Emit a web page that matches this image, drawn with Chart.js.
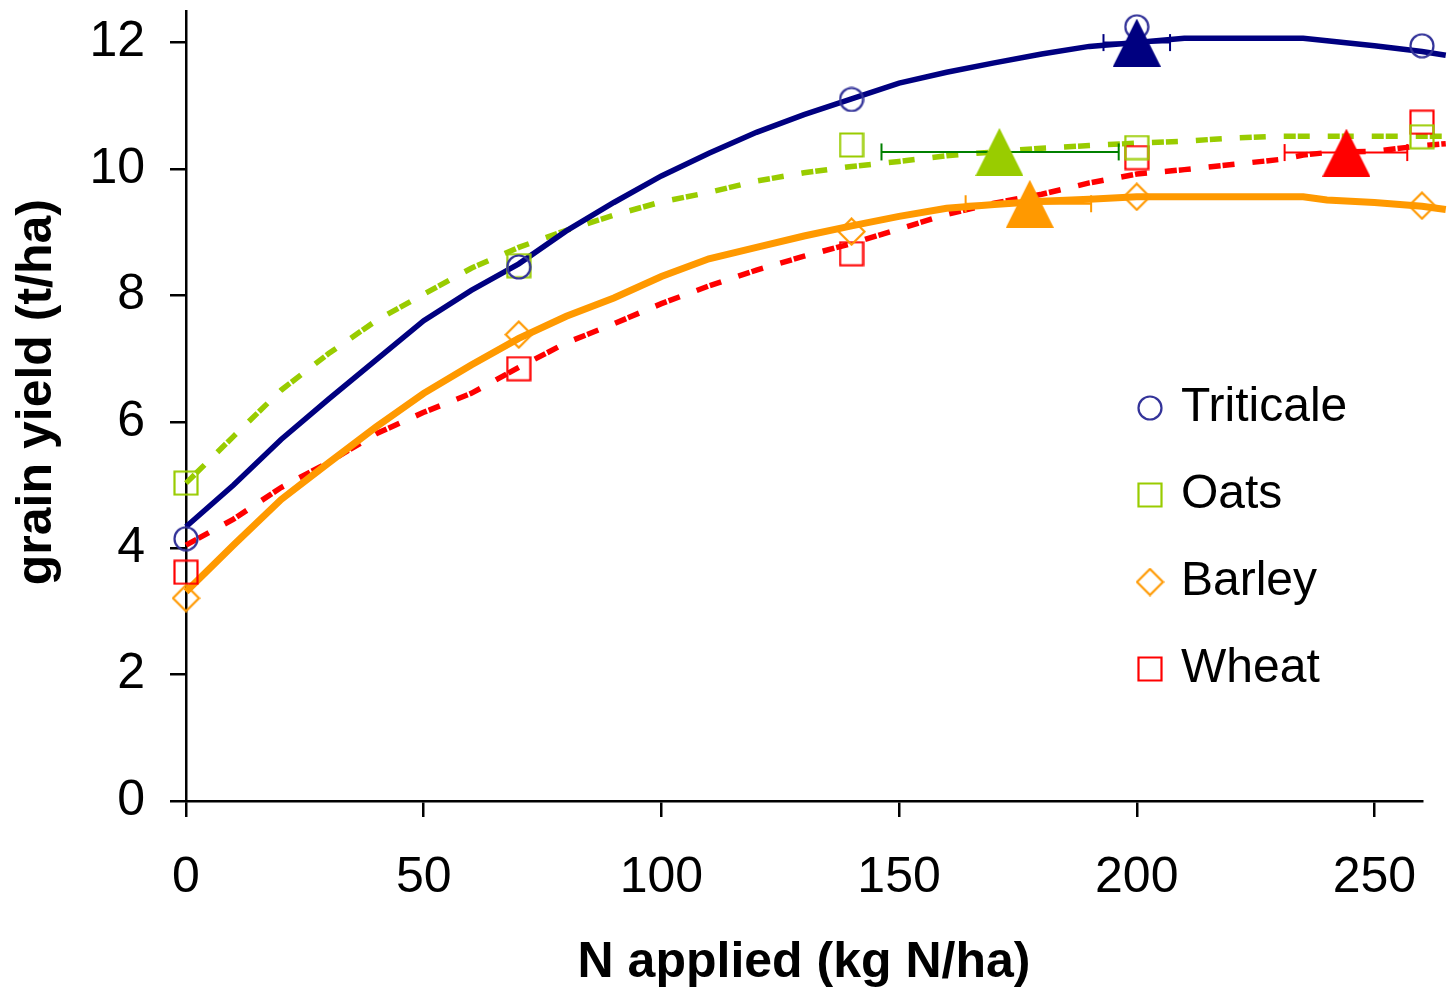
<!DOCTYPE html>
<html lang="en">
<head>
  <meta charset="UTF-8">
  <title>Grain yield response to applied N</title>
  <script src="https://cdn.jsdelivr.net/npm/chart.js@4.4.1/dist/chart.umd.min.js"></script>
  <style>
    body { margin: 0; background: #fff; }
    #wrap { width: 1447px; height: 989px; }
  </style>
</head>
<body>
<div id="wrap"><canvas id="yieldChart" width="1447" height="989"></canvas></div>
<script>
  // measured yields (t/ha) at each N rate
  const nLevels = [0, 70, 140, 200, 260];
  const triticaleObs = [4.15, 8.45, 11.1, 12.25, 11.95];
  const oatsObs = [5.03, 8.47, 10.38, 10.34, 10.51];
  const barleyObs = [3.21, 7.38, 9.01, 9.56, 9.42];
  const wheatObs = [3.62, 6.84, 8.66, 10.18, 10.74];

  // fitted response curves
  const fitN = [0, 10, 20, 30, 40, 50, 60, 70, 80, 90, 100, 110, 120, 130, 140, 150, 160, 170, 180, 190, 200, 210, 220, 230, 235, 240, 250, 260, 265];
  const triticaleFit = [4.34, 5.0, 5.72, 6.36, 6.98, 7.6, 8.08, 8.5, 9.02, 9.47, 9.89, 10.25, 10.58, 10.86, 11.11, 11.36, 11.53, 11.68, 11.82, 11.94, 12.0, 12.07, 12.07, 12.07, 12.07, 12.03, 11.95, 11.86, 11.8];
  const oatsFit = [5.03, 5.77, 6.5, 7.08, 7.6, 8.02, 8.43, 8.76, 9.03, 9.27, 9.48, 9.63, 9.81, 9.94, 10.04, 10.12, 10.21, 10.27, 10.33, 10.37, 10.41, 10.44, 10.49, 10.52, 10.52, 10.52, 10.52, 10.52, 10.52];
  const barleyFit = [3.31, 4.05, 4.77, 5.35, 5.92, 6.45, 6.9, 7.32, 7.67, 7.96, 8.3, 8.58, 8.76, 8.94, 9.1, 9.25, 9.38, 9.44, 9.49, 9.52, 9.56, 9.56, 9.56, 9.56, 9.56, 9.51, 9.47, 9.41, 9.36];
  const wheatFit = [4.05, 4.46, 4.96, 5.36, 5.81, 6.15, 6.45, 6.86, 7.25, 7.55, 7.87, 8.15, 8.4, 8.62, 8.82, 9.05, 9.28, 9.46, 9.6, 9.78, 9.92, 9.99, 10.07, 10.15, 10.22, 10.26, 10.28, 10.37, 10.4];

  // economic optimum N and its range (Triticale, Oats, Barley, Wheat)
  const optN = [200, 171.1, 177.5, 244.1];
  const optYield = [12.0, 10.27, 9.45, 10.26];
  const optLow = [193, 146.3, 164, 231.1];
  const optHigh = [207, 196.2, 190.4, 256.9];

  const crops = ['Triticale', 'Oats', 'Barley', 'Wheat'];
  const lineColors = ['#000080', '#99CC00', '#FF9900', '#FF0000'];
  const markerColors = ['#333399', '#99CC00', '#FF9900', '#FF0000'];
  const errColors = ['#000080', '#008000', '#FF9900', '#FF0000'];

  function pts(xs, ys) {
    return xs.map((x, i) => ({ x: x, y: ys[i] }));
  }

  // small canvases used as point styles, so chart and legend share the same marks
  function marker(shape, color, w, h) {
    const c = document.createElement('canvas');
    c.width = w; c.height = h;
    const g = c.getContext('2d');
    g.strokeStyle = color; g.fillStyle = color; g.lineWidth = 2.2;
    g.beginPath();
    if (shape === 'circle') {
      g.arc(w / 2, h / 2, w / 2 - 1.5, 0, Math.PI * 2);
      g.stroke();
    } else if (shape === 'square') {
      g.rect(1.5, 1.5, w - 3, h - 3);
      g.stroke();
    } else if (shape === 'diamond') {
      g.moveTo(w / 2, 1.5); g.lineTo(w - 1.5, h / 2); g.lineTo(w / 2, h - 1.5); g.lineTo(1.5, h / 2);
      g.closePath();
      g.stroke();
    } else {
      g.moveTo(w / 2, 0); g.lineTo(w, h); g.lineTo(0, h);
      g.closePath();
      g.fill();
    }
    return c;
  }

  const obsMarkers = [
    marker('circle', markerColors[0], 26, 26),
    marker('square', markerColors[1], 26, 26),
    marker('diamond', markerColors[2], 29, 29),
    marker('square', markerColors[3], 26, 26)
  ];

  const obsSeries = [triticaleObs, oatsObs, barleyObs, wheatObs];
  const fitSeries = [triticaleFit, oatsFit, barleyFit, wheatFit];
  const dashed = [false, true, false, true];
  const fitWidths = [5.5, 5.5, 7, 5.5];

  const datasets = [];
  crops.forEach((name, i) => {
    datasets.push({
      label: name,
      data: pts(nLevels, obsSeries[i]),
      pointStyle: obsMarkers[i],
      showLine: false,
      clip: false,
      order: 2
    });
  });
  crops.forEach((name, i) => {
    datasets.push({
      label: name + ' fit',
      data: pts(fitN, fitSeries[i]),
      showLine: true,
      borderColor: lineColors[i],
      borderWidth: fitWidths[i],
      borderDash: dashed[i] ? [12, 2, 12, 18] : [],
      pointRadius: 0,
      tension: 0,
      clip: false,
      order: 3
    });
    datasets.push({
      label: name + ' optimum range',
      data: [{ x: optLow[i], y: optYield[i] }, { x: optHigh[i], y: optYield[i] }],
      showLine: true,
      borderColor: errColors[i],
      borderWidth: 2,
      pointStyle: 'line',
      rotation: 90,
      pointRadius: 8.5,
      pointBorderWidth: 2,
      pointBorderColor: errColors[i],
      clip: false,
      order: 1
    });
    datasets.push({
      label: name + ' optimum',
      data: [{ x: optN[i], y: optYield[i] }],
      pointStyle: marker('triangle', lineColors[i], 48, 48),
      clip: false,
      order: 0
    });
  });

  // put the legend inside the plot, right side
  const legendPlacer = {
    id: 'legendPlacer',
    afterLayout(chart) {
      const lg = chart.legend;
      lg.left = 1104; lg.top = 345; lg.right = 1447; lg.bottom = 989;
    }
  };

  Chart.defaults.font.family = "'Liberation Sans', Arial, sans-serif";
  Chart.defaults.color = '#000';

  const axisGrid = { drawOnChartArea: false, drawTicks: true, tickLength: 16, color: '#000', lineWidth: 2.5 };
  const axisBorder = { display: true, color: '#000', width: 2.5 };

  new Chart(document.getElementById('yieldChart'), {
    type: 'scatter',
    data: { datasets: datasets },
    options: {
      responsive: false,
      animation: false,
      devicePixelRatio: 1,
      events: [],
      layout: { padding: { top: 11, right: 25, left: 0, bottom: 0 } },
      plugins: {
        tooltip: { enabled: false },
        legend: {
          position: 'chartArea',
          fullSize: false,
          align: 'start',
          labels: {
            usePointStyle: true,
            boxWidth: 14,
            boxHeight: 14,
            padding: 39,
            color: '#000',
            font: { size: 48 },
            filter: item => item.datasetIndex < 4
          }
        }
      },
      scales: {
        x: {
          type: 'linear',
          position: 'bottom',
          bounds: 'data',
          ticks: { stepSize: 50, padding: 31, maxRotation: 0, font: { size: 50 } },
          grid: axisGrid,
          border: axisBorder,
          title: { display: true, text: 'N applied (kg N/ha)', font: { size: 50, weight: 'bold' }, padding: { top: 0, bottom: -4 } },
          // axis runs 0..260; curves carry on past the end of the axis
          afterDataLimits(s) { s.min = 0; s.max = 260; },
          afterBuildTicks(s) { s.ticks = s.ticks.filter(t => t.value % 50 === 0); },
          afterFit(s) { s.height = 188; s.paddingLeft = 0; s.paddingRight = 0; }
        },
        y: {
          min: 0,
          max: 12.5,
          bounds: 'data',
          ticks: { stepSize: 2, includeBounds: false, padding: 25, font: { size: 50 } },
          grid: axisGrid,
          border: axisBorder,
          title: { display: true, text: '  grain yield (t/ha)', font: { size: 50, weight: 'bold' }, padding: { top: 7, bottom: 0 } },
          afterBuildTicks(s) { s.ticks = s.ticks.filter(t => t.value % 2 === 0); },
          afterFit(s) { s.width = 186; s.paddingTop = 0; s.paddingBottom = 0; }
        }
      }
    },
    plugins: [legendPlacer]
  });
</script>
</body>
</html>
